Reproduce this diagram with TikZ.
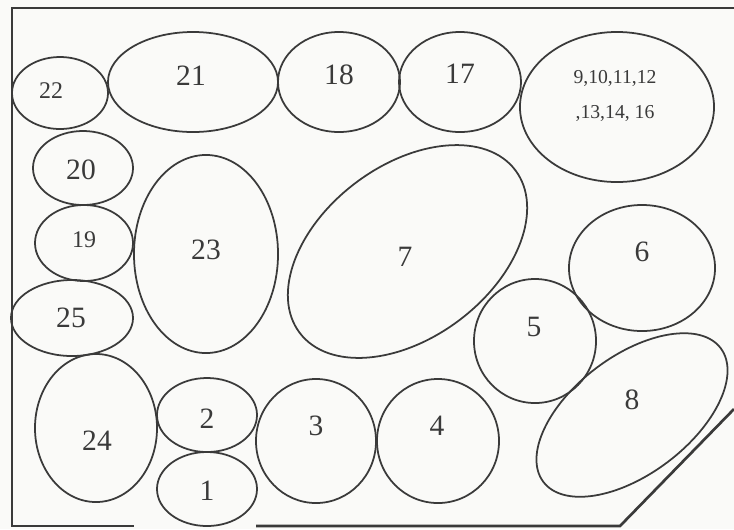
\documentclass[tikz,border=0pt]{standalone}
\usepackage{fontspec}
\setmainfont{Liberation Serif}
\usetikzlibrary{shapes.geometric}
\definecolor{ink}{HTML}{3A3A3A}
\definecolor{paper}{HTML}{FAFAF8}
\begin{document}
\begin{tikzpicture}[x=0.025cm,y=-0.025cm,
  ell/.style 2 args={ellipse, draw=ink, line width=1.25pt, minimum width=#1*0.05cm, minimum height=#2*0.05cm, inner sep=0pt},
  lab/.style={text=ink, font=\fontsize{21}{24}\selectfont, inner sep=0pt},
  slab/.style={text=ink, font=\fontsize{17}{20}\selectfont, inner sep=0pt},
  tlab/.style={text=ink, font=\fontsize{14}{25.5}\selectfont, inner sep=0pt, align=center},
  frame/.style={draw=ink, line width=1.9pt}]
\fill[paper] (0,0) rectangle (734,529);
\useasboundingbox (0,0) rectangle (734,529);
% frame
\coordinate (ftr) at (734,8);
\coordinate (ftl) at (12,8);
\coordinate (fbl) at (12,526);
\coordinate (fgl) at (134,526);
\coordinate (fgr) at (256,526);
\coordinate (fbr) at (620,526);
\coordinate (fdr) at (734,409);
\draw[frame] (ftr) -- (ftl) -- (fbl) -- (fgl);
\draw[frame] (fgr) -- (fbr) -- (fdr);
% ellipses
\node[ell={48}{36}] (e22) at (60,93) {};
\node[ell={85}{50}] (e21) at (193,82) {};
\node[ell={61}{50}] (e18) at (339,82) {};
\node[ell={61}{50}] (e17) at (460,82) {};
\node[ell={97}{75}] (e9) at (617,107) {};
\node[ell={50}{37}] (e20) at (83,168) {};
\node[ell={49}{38}] (e19) at (84,243) {};
\node[ell={72}{99}] (e23) at (206,254) {};
\node[ell={61}{38}] (e25) at (72,318) {};
\node[ell={61}{74}] (e24) at (96,428) {};
\node[ell={50}{37}] (e2) at (207,415) {};
\node[ell={50}{37}] (e1) at (207,489) {};
\node[ell={60}{62}] (e3) at (316,441) {};
\node[ell={61}{62}] (e4) at (438,441) {};
\node[ell={61}{62}] (e5) at (535,341) {};
\node[ell={73}{63}] (e6) at (642,268) {};
\node[ell={135}{86}, rotate=37] (e7) at (407.5,251.5) {};
\node[ell={111}{59}, rotate=37] (e8) at (632,415) {};
% labels
\node[slab] (l22) at (51,91) {22};
\node[lab] (l21) at (191,76) {21};
\node[lab] (l18) at (339,75) {18};
\node[lab] (l17) at (460,74) {17};
\node[tlab] (l9) at (615,96) {9,10,11,12\\,13,14, 16};
\node[lab] (l20) at (81,170) {20};
\node[slab] (l19) at (84,240) {19};
\node[lab] (l23) at (206,250) {23};
\node[lab] (l25) at (71,318) {25};
\node[lab] (l24) at (97,441) {24};
\node[lab] (l2) at (207,419) {2};
\node[lab] (l1) at (207,491) {1};
\node[lab] (l3) at (316,426) {3};
\node[lab] (l4) at (437,426) {4};
\node[lab] (l5) at (534,327) {5};
\node[lab] (l6) at (642,252) {6};
\node[lab] (l7) at (405,257) {7};
\node[lab] (l8) at (632,400) {8};
\end{tikzpicture}
\end{document}
